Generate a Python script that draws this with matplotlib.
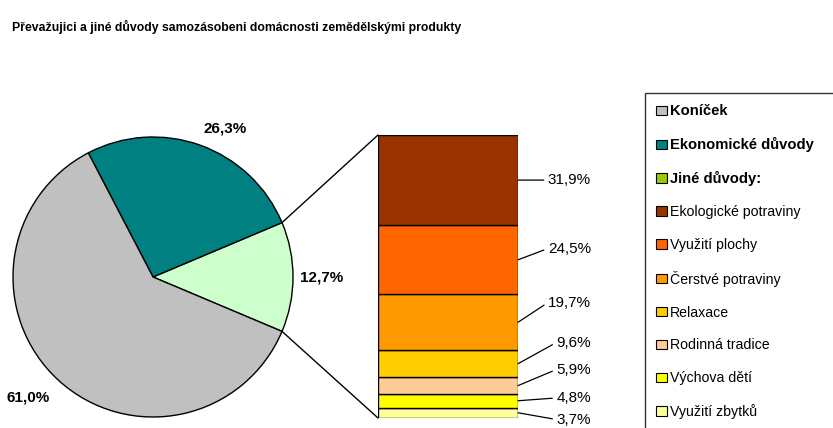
import matplotlib
matplotlib.use("Agg")
import matplotlib.pyplot as plt
from matplotlib.patches import ConnectionPatch, Patch
import numpy as np

plt.rcParams["font.family"] = ["Liberation Sans", "DejaVu Sans"]

TITLE = "Převažujici a jiné důvody samozásobeni domácnosti zemědělskými produkty"

# pie: counter-clockwise from the right side
PIE_NAMES  = ["Jiné důvody:", "Ekonomické důvody", "Koníček"]
PIE_VALUES = [12.7, 26.3, 61.0]
PIE_LABELS = ["12,7%", "26,3%", "61,0%"]
PIE_COLORS = ["#CCFFCC", "#008080", "#C0C0C0"]
PIE_LEGEND_COLORS = ["#99CC00", "#008080", "#C0C0C0"]

# breakdown of "Jiné důvody", bottom to top
BAR_NAMES  = ["Využití zbytků", "Výchova dětí", "Rodinná tradice", "Relaxace",
              "Čerstvé potraviny", "Využití plochy", "Ekologické potraviny"]
BAR_VALUES = [3.7, 4.8, 5.9, 9.6, 19.7, 24.5, 31.9]
BAR_LABELS = ["3,7%", "4,8%", "5,9%", "9,6%", "19,7%", "24,5%", "31,9%"]
BAR_COLORS = ["#FFFF99", "#FFFF00", "#FFCC99", "#FFCC00",
              "#FF9900", "#FF6600", "#993300"]

W, H = 833, 428
fig = plt.figure(figsize=(W / 100, H / 100), dpi=100)

# main axes in pixel units (y up)
ax = fig.add_axes([0, 0, 1, 1])
PIE_C = (153, H - 277)
PIE_R = 140
start = -PIE_VALUES[0] * 3.6 / 2
ax.pie(PIE_VALUES, colors=PIE_COLORS, startangle=start, counterclock=True,
       center=PIE_C, radius=PIE_R,
       wedgeprops=dict(edgecolor="black", linewidth=1.0))
ax.set_xlim(0, W)
ax.set_ylim(0, H)
ax.set_aspect("auto")
ax.axis("off")

# pie percentage labels (pixel positions)
pie_lab_pos = [(322, 278), (225, 128), (28, 397)]
for txt, (px, py) in zip(PIE_LABELS, pie_lab_pos):
    ax.text(px, H - py, txt, ha="center", va="center", fontsize=11,
            fontweight="bold")

# stacked bar
BX0, BX1, BY0, BY1 = 378, 518, 135, 418
bax = fig.add_axes([BX0 / W, (H - BY1) / H, (BX1 - BX0) / W, (BY1 - BY0) / H])
total = sum(BAR_VALUES)
bottoms = np.concatenate([[0], np.cumsum(BAR_VALUES)[:-1]])
bax.bar([0.5] * len(BAR_VALUES), BAR_VALUES, bottom=bottoms, width=1.0,
        color=BAR_COLORS, edgecolor="black", linewidth=1.0)
bax.set_xlim(0, 1)
bax.set_ylim(0, total)
bax.axis("off")

label_shift = [-2.4, 1.0, 5.7, 7.5, 7.0, 4.0, 0.0]
label_x = 1 + (591 - BX1) / (BX1 - BX0)
for b, v, txt, dy in zip(bottoms, BAR_VALUES, BAR_LABELS, label_shift):
    yc = b + v / 2
    bax.annotate(txt, xy=(1.0, yc), xytext=(label_x, yc + dy),
                 ha="right", va="center", fontsize=11,
                 annotation_clip=False,
                 arrowprops=dict(arrowstyle="-", color="black", lw=0.9,
                                 shrinkA=1, shrinkB=0, relpos=(0, 0.5)))

# connectors from pie slice to bar
a = np.deg2rad(start)
for sgn, yb in [(1, total), (-1, 0)]:
    p = (PIE_C[0] + PIE_R * np.cos(a), PIE_C[1] - sgn * PIE_R * np.sin(a))
    con = ConnectionPatch(xyA=p, coordsA=ax.transData, xyB=(0, yb),
                          coordsB=bax.transData, color="black", lw=1.0)
    fig.add_artist(con)

fig.text(12 / W, 1 - 27 / H, TITLE, fontsize=8.8, fontweight="bold",
         va="center", ha="left")

# legend (runs off the right and bottom edge like the original)
names = PIE_NAMES[::-1] + BAR_NAMES[::-1]
cols = PIE_LEGEND_COLORS[::-1] + BAR_COLORS[::-1]
handles = [Patch(facecolor=c, edgecolor="black", linewidth=0.8) for c in cols]
leg = fig.legend(handles, names, loc="upper left", mode="expand",
                 bbox_to_anchor=(645 / W, 1 - 93 / H, 0.3, 0), fontsize=10.2,
                 frameon=True, fancybox=False, edgecolor="black",
                 labelspacing=1.33, handlelength=0.75, handleheight=0.65,
                 handletextpad=0.2, borderpad=0.8, borderaxespad=0)
leg.get_frame().set_linewidth(1.0)
for t in leg.get_texts()[:3]:
    t.set_fontweight("bold")
    t.set_fontsize(10.6)

fig.savefig("out.png", dpi=100)
